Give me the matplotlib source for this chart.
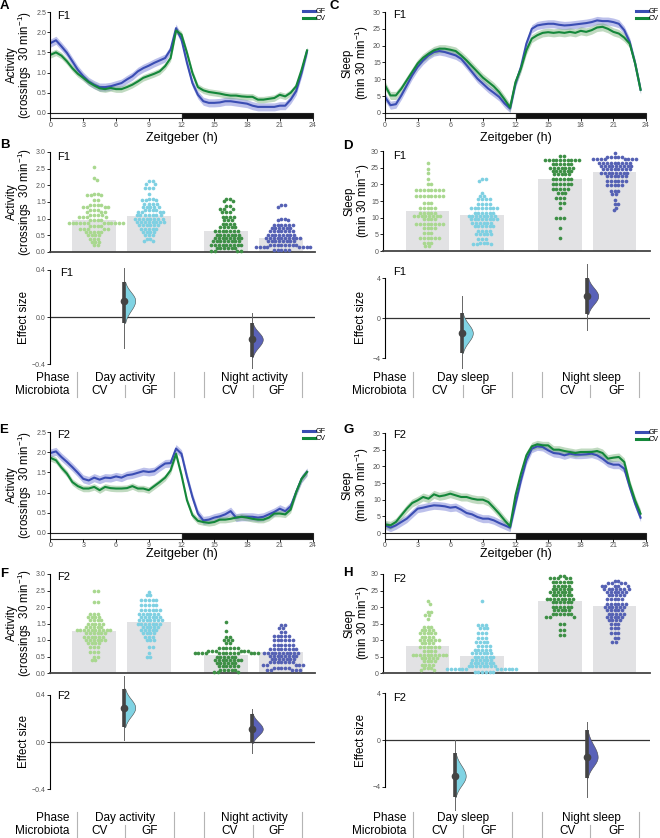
import numpy as np
import matplotlib
matplotlib.use("Agg")
import matplotlib.pyplot as plt
from matplotlib.lines import Line2D
from matplotlib.patches import Rectangle

plt.rcParams['font.family'] = ['Liberation Sans', 'DejaVu Sans']
plt.rcParams['mathtext.fontset'] = 'custom'
plt.rcParams['mathtext.rm'] = 'Liberation Sans'
plt.rcParams['mathtext.it'] = 'Liberation Sans:italic'
plt.rcParams['mathtext.bf'] = 'Liberation Sans:bold'

# ---- time courses, 30 min bins (ZT 0 .. 23.5) ----
hours = np.arange(48) * 0.5

actF1_gf = [1.73, 1.80, 1.65, 1.49, 1.28, 1.07, 0.91, 0.78, 0.70, 0.64, 0.64, 0.66, 0.70, 0.74, 0.83, 0.91,
            1.03, 1.11, 1.17, 1.24, 1.30, 1.36, 1.57, 2.10, 1.82, 1.24, 0.74, 0.45, 0.29, 0.25, 0.25, 0.26,
            0.29, 0.29, 0.27, 0.25, 0.23, 0.18, 0.15, 0.15, 0.15, 0.15, 0.18, 0.18, 0.33, 0.54, 0.99, 1.53]
actF1_cv = [1.44, 1.50, 1.42, 1.28, 1.11, 0.97, 0.87, 0.76, 0.68, 0.61, 0.59, 0.62, 0.59, 0.59, 0.64, 0.70,
            0.78, 0.87, 0.92, 0.97, 1.03, 1.16, 1.36, 2.04, 1.94, 1.49, 0.99, 0.64, 0.56, 0.52, 0.50, 0.48,
            0.45, 0.43, 0.43, 0.41, 0.40, 0.40, 0.33, 0.33, 0.35, 0.37, 0.45, 0.41, 0.50, 0.66, 1.07, 1.55]
sleepF1_gf = [4.75, 2.3, 2.6, 5.2, 8.2, 11.2, 13.7, 15.6, 17.1, 18.1, 18.4, 18.1, 17.6, 17.1, 16.1, 14.2,
              12.2, 10.2, 8.7, 7.2, 6.0, 4.75, 2.8, 1.3, 8.7, 13.7, 20.6, 25.0, 26.0, 26.3, 26.5, 26.5,
              26.2, 26.0, 26.1, 26.3, 26.5, 26.7, 27.0, 27.5, 27.3, 27.3, 27.0, 26.5, 24.6, 21.1, 14.7, 6.9]
sleepF1_cv = [8.2, 5.2, 5.2, 7.2, 9.7, 12.2, 14.7, 16.4, 17.6, 18.6, 19.1, 19.1, 18.8, 18.4, 17.1, 15.6,
              13.9, 12.2, 10.5, 9.2, 7.9, 6.2, 4.0, 1.6, 9.2, 13.2, 18.6, 22.1, 23.1, 23.8, 24.0, 23.8,
              24.0, 23.8, 24.1, 23.8, 24.4, 24.1, 24.6, 25.4, 25.6, 25.0, 24.1, 23.6, 22.4, 20.6, 14.7, 6.9]
actF2_gf = [1.98, 2.02, 1.88, 1.76, 1.63, 1.49, 1.34, 1.30, 1.37, 1.32, 1.37, 1.36, 1.40, 1.37, 1.43, 1.45,
            1.49, 1.53, 1.51, 1.53, 1.63, 1.72, 1.73, 2.09, 1.96, 1.39, 0.89, 0.48, 0.31, 0.33, 0.38, 0.41,
            0.46, 0.54, 0.38, 0.40, 0.40, 0.40, 0.38, 0.40, 0.46, 0.52, 0.60, 0.54, 0.66, 1.01, 1.34, 1.51]
actF2_cv = [1.86, 1.80, 1.62, 1.47, 1.26, 1.16, 1.10, 1.10, 1.14, 1.06, 1.14, 1.11, 1.10, 1.10, 1.11, 1.16,
            1.10, 1.10, 1.06, 1.16, 1.26, 1.37, 1.55, 1.96, 1.43, 0.81, 0.44, 0.30, 0.27, 0.25, 0.27, 0.33,
            0.33, 0.35, 0.38, 0.40, 0.38, 0.35, 0.33, 0.33, 0.38, 0.48, 0.48, 0.46, 0.58, 1.01, 1.34, 1.51]
sleepF2_gf = [2.3, 1.6, 2.3, 3.3, 4.3, 5.8, 7.3, 7.6, 8.0, 8.3, 8.2, 8.0, 7.6, 7.8, 7.0, 6.0,
              5.6, 4.8, 4.3, 4.3, 3.8, 3.0, 2.3, 1.6, 8.8, 15.8, 21.8, 25.3, 26.0, 25.8, 24.8, 24.0,
              23.8, 23.3, 23.8, 23.5, 23.5, 23.6, 23.8, 23.3, 22.3, 21.0, 20.5, 20.5, 19.3, 13.8, 8.8, 4.6]
sleepF2_cv = [2.6, 2.3, 3.3, 5.3, 7.3, 9.0, 9.8, 10.8, 10.3, 11.6, 11.0, 11.3, 11.8, 11.3, 10.8, 10.8,
              10.3, 10.0, 10.0, 9.3, 7.6, 5.8, 3.8, 2.0, 11.3, 17.8, 23.3, 26.0, 26.6, 26.3, 26.3, 25.0,
              25.0, 24.6, 24.3, 24.0, 24.3, 24.3, 24.3, 24.6, 24.0, 22.3, 22.6, 22.8, 21.3, 14.8, 9.8, 5.8]
sem_act = (0.10, 0.08)
sem_sleep = (1.2, 1.2)

# ---- per-fly means: value levels and how many flies sit on each ----
actF1_dayCV_lv = [2.55, 2.22, 2.17, 1.75, 1.70, 1.55, 1.40, 1.35, 1.25, 1.20, 1.10, 1.05, 0.95, 0.87, 0.78, 0.70, 0.60, 0.50, 0.40, 0.30, 0.20]
actF1_dayCV_ct = [1, 1, 1, 2, 3, 2, 4, 4, 3, 3, 4, 4, 4, 12, 4, 5, 5, 4, 3, 3, 2]
actF1_dayGF_lv = [2.12, 2.05, 1.93, 1.75, 1.60, 1.55, 1.45, 1.35, 1.25, 1.20, 1.10, 1.00, 0.90, 0.80, 0.70, 0.60, 0.50, 0.40, 0.33]
actF1_dayGF_ct = [2, 2, 3, 1, 2, 3, 4, 5, 4, 4, 7, 8, 8, 6, 5, 4, 3, 2, 2]
actF1_nightCV_lv = [1.60, 1.52, 1.38, 1.30, 1.20, 1.05, 0.95, 0.85, 0.75, 0.62, 0.52, 0.42, 0.32, 0.22, 0.12, 0.03]
actF1_nightCV_ct = [2, 2, 2, 3, 3, 4, 3, 4, 5, 7, 7, 8, 8, 9, 6, 4]
actF1_nightGF_lv = [1.40, 1.35, 1.00, 0.95, 0.82, 0.72, 0.62, 0.52, 0.42, 0.32, 0.22, 0.15, 0.05]
actF1_nightGF_ct = [2, 1, 2, 2, 6, 6, 7, 8, 10, 8, 8, 8, 5]

sleepF1_dayCV_lv = [26.3, 24.5, 23.3, 21.5, 20.0, 18.2, 16.5, 14.5, 12.8, 11.5, 10.5, 9.5, 8.2, 7.0, 5.5, 4.0, 2.5, 1.5]
sleepF1_dayCV_ct = [1, 1, 1, 1, 2, 8, 8, 3, 5, 5, 8, 4, 8, 4, 3, 6, 3, 2]
sleepF1_dayGF_lv = [21.7, 21.0, 17.5, 16.5, 15.5, 14.0, 12.8, 11.5, 10.5, 9.5, 8.5, 7.5, 6.0, 5.0, 3.5, 2.5, 2.0]
sleepF1_dayGF_ct = [2, 1, 1, 2, 4, 4, 8, 6, 8, 8, 6, 6, 4, 5, 3, 3, 3]
sleepF1_nightCV_lv = [28.5, 27.3, 26.0, 25.0, 24.0, 23.0, 21.5, 20.0, 18.5, 17.5, 16.0, 14.5, 12.8, 10.0, 7.0, 3.8]
sleepF1_nightCV_ct = [2, 10, 6, 7, 6, 5, 6, 6, 5, 3, 3, 2, 1, 3, 1, 1]
sleepF1_nightGF_lv = [29.5, 28.3, 27.5, 26.5, 25.5, 24.5, 23.5, 22.5, 21.0, 19.8, 18.0, 17.0, 15.3, 14.0, 13.0, 12.2]
sleepF1_nightGF_ct = [1, 5, 8, 9, 9, 8, 8, 6, 6, 5, 3, 2, 1, 2, 1, 1]

actF2_dayCV_lv = [2.50, 2.15, 1.80, 1.70, 1.60, 1.50, 1.40, 1.30, 1.20, 1.10, 1.00, 0.90, 0.80, 0.65, 0.50, 0.40]
actF2_dayCV_ct = [2, 2, 3, 4, 4, 5, 5, 10, 6, 6, 6, 4, 3, 3, 2, 2]
actF2_dayGF_lv = [2.45, 2.35, 2.20, 2.05, 1.90, 1.80, 1.70, 1.60, 1.50, 1.40, 1.30, 1.20, 1.10, 1.00, 0.80, 0.60, 0.50]
actF2_dayGF_ct = [1, 2, 5, 5, 6, 6, 6, 7, 7, 5, 5, 4, 3, 3, 2, 1, 2]
actF2_nightCV_lv = [1.55, 1.28, 1.10, 1.00, 0.90, 0.75, 0.68, 0.60, 0.50, 0.40, 0.30, 0.20, 0.10, 0.02]
actF2_nightCV_ct = [1, 1, 2, 3, 2, 6, 6, 13, 6, 8, 6, 6, 5, 3]
actF2_nightGF_lv = [1.45, 1.35, 1.25, 1.12, 1.00, 0.85, 0.72, 0.62, 0.52, 0.42, 0.32, 0.25, 0.15, 0.10]
actF2_nightGF_ct = [2, 2, 2, 5, 6, 6, 8, 10, 8, 7, 7, 5, 5, 5]

sleepF2_dayCV_lv = [21.8, 21.0, 18.5, 17.5, 16.5, 14.0, 13.0, 12.0, 11.0, 10.0, 9.0, 8.0, 6.8, 5.5, 4.5, 3.5, 2.5, 1.5, 0.8]
sleepF2_dayCV_ct = [1, 1, 2, 2, 1, 3, 4, 5, 4, 6, 4, 6, 4, 10, 5, 4, 4, 3, 2]
sleepF2_dayGF_lv = [21.7, 14.5, 13.5, 12.0, 10.5, 9.5, 8.3, 7.0, 6.0, 5.0, 4.0, 3.0, 2.0, 1.2, 0.3]
sleepF2_dayGF_ct = [1, 3, 3, 3, 3, 4, 4, 5, 6, 6, 6, 7, 8, 12, 6]
sleepF2_nightCV_lv = [29.5, 28.7, 27.5, 26.5, 25.5, 24.5, 23.5, 22.5, 21.5, 20.0, 19.0, 17.8, 17.0, 15.0, 13.0, 11.5]
sleepF2_nightCV_ct = [2, 5, 6, 5, 6, 6, 6, 8, 6, 6, 5, 6, 3, 2, 2, 2]
sleepF2_nightGF_lv = [28.0, 27.3, 26.5, 25.5, 24.5, 23.5, 22.5, 21.0, 20.0, 19.0, 18.0, 17.0, 16.0, 15.0, 13.5, 12.0, 10.5, 9.5]
sleepF2_nightGF_ct = [2, 4, 5, 7, 6, 5, 5, 6, 6, 5, 5, 5, 4, 3, 3, 3, 2, 2]

# bar heights (group means): day CV, day GF, night CV, night GF
actF1_means = [0.96, 1.08, 0.63, 0.42]
sleepF1_means = [12.1, 10.8, 21.6, 23.8]
actF2_means = [1.27, 1.55, 0.55, 0.64]
sleepF2_means = [8.2, 5.2, 21.8, 20.3]

# effect sizes (GF - CV): mean, 95% CI low/high, bootstrap min/max; day then night
actF1_eff = [(0.14, -0.05, 0.30, -0.26, 0.42), (-0.19, -0.34, -0.05, -0.43, 0.03)]
sleepF1_eff = [(-1.5, -3.5, 0.5, -5.0, 2.2), (2.2, 0.4, 4.0, -1.2, 5.4)]
actF2_eff = [(0.29, 0.125, 0.45, 0.02, 0.56), (0.11, -0.01, 0.24, -0.09, 0.28)]
sleepF2_eff = [(-3.06, -4.85, -1.1, -6.0, 0.0), (-1.45, -3.2, 0.85, -4.85, 1.5)]

micro = ['CV', 'GF', 'CV', 'GF']

GF_LINE = '#3a4db3'
CV_LINE = '#14873a'
GF_BAND = '#7a82d8'
CV_BAND = '#74ad74'
BAR_GRAY = '#e2e2e4'
SWARM_COLORS = ['#a9d88f', '#7ed0e2', '#3d8f45', '#5561b4']
VIOLIN_COLORS = ['#80d3e3', '#5a62b8']
SEP = '#b4b4b4'
TICK_TXT = '#555555'

W, H = 660, 838
fig = plt.figure(figsize=(W / 100, H / 100), dpi=100)


def box(x0, y0, x1, y1):
    return [x0 / W, 1 - y1 / H, (x1 - x0) / W, (y1 - y0) / H]


def label(x, y, s, **kw):
    fig.text(x / W, 1 - y / H, s, **kw)


def vline(x, y0, y1, **kw):
    fig.add_artist(Line2D([x / W, x / W], [1 - y0 / H, 1 - y1 / H], **kw))


def style_left(ax):
    ax.spines[['top', 'right']].set_visible(False)
    ax.spines['left'].set_linewidth(0.8)
    ax.tick_params(axis='y', length=2, width=0.6, pad=1, labelsize=5, labelcolor=TICK_TXT)


def swarm_x(ax, xc, vals, d):
    pts = ax.transData.transform(np.column_stack([np.full(len(vals), xc), vals]))
    cx = pts[0, 0]
    steps = np.arange(0.25, 60, 0.25)
    cand = np.concatenate([[0.0], np.column_stack([steps, -steps]).ravel()])
    placed, out = [], []
    for py in pts[:, 1]:
        near = [(qx, qy) for qx, qy in placed if abs(qy - py) < d]
        for dx in cand:
            if all((dx - qx) ** 2 + (py - qy) ** 2 >= d * d for qx, qy in near):
                break
        placed.append((dx, py))
        out.append(cx + dx)
    return ax.transData.inverted().transform(np.column_stack([out, pts[:, 1]]))[:, 0]


def trace_panel(rect, ymax, step, fmt, gf, cv, sem, leg_xy, xlab_y):
    ax = fig.add_axes(box(*rect))
    ld = ymax * 0.055
    ax.set_xlim(0, 24)
    ax.set_ylim(-ld, ymax)
    gf = np.asarray(gf)
    cv = np.asarray(cv)
    ax.fill_between(hours, gf - sem[0], gf + sem[0], color=GF_BAND, alpha=0.5, lw=0)
    ax.fill_between(hours, cv - sem[1], cv + sem[1], color=CV_BAND, alpha=0.45, lw=0)
    ax.plot(hours, gf, color=GF_LINE, lw=1.5)
    ax.plot(hours, cv, color=CV_LINE, lw=1.5)
    ax.add_patch(Rectangle((0, -ld), 12, ld, fc='white', ec='#222', lw=0.8, clip_on=False))
    ax.add_patch(Rectangle((12, -ld), 12, ld, fc='#111', ec='#222', lw=0.8, clip_on=False))
    style_left(ax)
    ax.spines['bottom'].set_visible(False)
    ax.spines['left'].set_bounds(0, ymax)
    ax.set_yticks(np.arange(0, ymax + step / 2, step))
    ax.yaxis.set_major_formatter(fmt)
    ax.set_xticks(np.arange(0, 25, 3))
    ax.tick_params(axis='x', length=2, width=0.6, pad=0.8, labelsize=5, labelcolor=TICK_TXT)
    handles = [Line2D([], [], color=GF_LINE, lw=2.2), Line2D([], [], color=CV_LINE, lw=2.2)]
    ax.legend(handles, ['GF', 'CV'], loc='upper left', bbox_to_anchor=(leg_xy[0] / W, 1 - leg_xy[1] / H),
              bbox_transform=fig.transFigure, frameon=False, fontsize=5.2, handlelength=1.6,
              handletextpad=0.1, labelspacing=0.0, borderpad=0, borderaxespad=0)
    label((rect[0] + rect[2]) / 2, xlab_y, 'Zeitgeber (h)', ha='center', va='center', fontsize=9)
    return ax


def bar_panel(rect, xlim, pos, means, groups, ymax, step, fmt):
    ax = fig.add_axes(box(*rect))
    ax.set_xlim(*xlim)
    ax.set_ylim(0, ymax)
    ax.bar(pos, means, width=0.8, color=BAR_GRAY, zorder=1)
    for p, (lv, ct), c in zip(pos, groups, SWARM_COLORS):
        vals = np.repeat(lv, ct)
        xs = swarm_x(ax, p, vals, 3.6)
        ax.scatter(xs, vals, s=7, color=c, lw=0, zorder=3, clip_on=False)
    style_left(ax)
    ax.spines['bottom'].set_color('#444')
    ax.spines['bottom'].set_linewidth(1.3)
    ax.tick_params(axis='x', bottom=False, labelbottom=False)
    ax.set_yticks(np.arange(0, ymax + step / 2, step))
    ax.yaxis.set_major_formatter(fmt)
    return ax


def effect_panel(rect, xlim, xs, effects, lim, tick, fmt):
    ax = fig.add_axes(box(*rect))
    ax.set_xlim(*xlim)
    ax.set_ylim(-lim, lim)
    ax.axhline(0, color='#333', lw=0.9, zorder=1)
    for x, (m, lo, hi, rmin, rmax), c in zip(xs, effects, VIOLIN_COLORS):
        ax.plot([x, x], [rmin, rmax], color='#666', lw=0.7, clip_on=False, zorder=2)
        yy = np.linspace(lo, hi, 100)
        sd = np.where(yy > m, (hi - m) / 2.2, (m - lo) / 2.2)
        dens = np.exp(-0.5 * ((yy - m) / sd) ** 2)
        ax.fill_betweenx(yy, x, x + 0.2 * dens, color=c, ec='#4a4a4a', lw=0.4, zorder=3, clip_on=False)
        ax.plot([x, x], [lo, hi], color='#444', lw=2.6, solid_capstyle='butt', zorder=4, clip_on=False)
        ax.plot([x], [m], 'o', color='#444', ms=4.5, zorder=5, clip_on=False)
    style_left(ax)
    ax.spines['bottom'].set_visible(False)
    ax.spines['left'].set_bounds(-tick, tick)
    ax.set_yticks([-tick, 0, tick])
    ax.yaxis.set_major_formatter(fmt)
    ax.tick_params(axis='x', bottom=False, labelbottom=False)
    return ax


def table(right, seps, small, phase_x, phases, micro_x, y_phase, y_micro, y_top, y_bot):
    label(right, y_phase, 'Phase', ha='right', va='center', fontsize=8.5)
    label(right, y_micro, 'Microbiota', ha='right', va='center', fontsize=8.5)
    for x in seps:
        vline(x, y_top, y_bot, color=SEP, lw=0.8)
    for x in small:
        vline(x, y_micro - 6, y_bot, color=SEP, lw=0.8)
    for x, s in zip(phase_x, phases):
        label(x, y_phase, s, ha='center', va='center', fontsize=8.5)
    for x, s in zip(micro_x, micro):
        label(x, y_micro, s, ha='center', va='center', fontsize=8.5)


def ylab(x, y, lines):
    # one rotated text per line, stacked left to right
    for i, s in enumerate(lines):
        label(x + i * 13.5, y, s, rotation=90, ha='center', va='center', fontsize=8.3)


fmt1 = matplotlib.ticker.FormatStrFormatter('%.1f')
fmt0 = matplotlib.ticker.FuncFormatter(lambda v, p: f'{v:.0f}'.replace('-', '\u2212'))
fmt1m = matplotlib.ticker.FuncFormatter(lambda v, p: f'{v:.1f}'.replace('-', '\u2212'))

left_pos = [0, 1, 2.41, 3.41]
left_xlim = (-0.8, 4.02)
right_pos = [0, 1, 2.43, 3.43]
right_xlim = (-0.82, 4.08)

act_lab = ['Activity', '(crossings  30 min$^{-1}$)']
sleep_lab = ['Sleep', '(min 30 min$^{-1}$)']

# ---------- F1 ----------
trace_panel((50.5, 12, 312.5, 118.5), 2.5, 0.5, fmt1, actF1_gf, actF1_cv, sem_act, (303, 8), 138)
trace_panel((385, 12, 646, 118.5), 30, 5, fmt0, sleepF1_gf, sleepF1_cv, sem_sleep, (636, 8), 138)
bar_panel((50, 152, 315, 252), left_xlim, left_pos, actF1_means,
          [(actF1_dayCV_lv, actF1_dayCV_ct), (actF1_dayGF_lv, actF1_dayGF_ct),
           (actF1_nightCV_lv, actF1_nightCV_ct), (actF1_nightGF_lv, actF1_nightGF_ct)], 3.0, 0.5, fmt1)
bar_panel((383, 151, 650, 251), right_xlim, right_pos, sleepF1_means,
          [(sleepF1_dayCV_lv, sleepF1_dayCV_ct), (sleepF1_dayGF_lv, sleepF1_dayGF_ct),
           (sleepF1_nightCV_lv, sleepF1_nightCV_ct), (sleepF1_nightGF_lv, sleepF1_nightGF_ct)], 30, 5, fmt0)
effect_panel((50, 264, 315, 370), left_xlim, [0.55, 2.87], actF1_eff, 0.45, 0.4, fmt1m)
effect_panel((385, 263, 650, 373), (-0.78, 4.08), [0.63, 2.93], sleepF1_eff, 5.5, 4, fmt0)

# ---------- F2 ----------
trace_panel((50.5, 432, 312.5, 538.5), 2.5, 0.5, fmt1, actF2_gf, actF2_cv, sem_act, (303, 428), 554)
trace_panel((385, 433, 646, 538.5), 30, 5, fmt0, sleepF2_gf, sleepF2_cv, sem_sleep, (636, 429), 554)
bar_panel((50, 574, 315, 673), left_xlim, left_pos, actF2_means,
          [(actF2_dayCV_lv, actF2_dayCV_ct), (actF2_dayGF_lv, actF2_dayGF_ct),
           (actF2_nightCV_lv, actF2_nightCV_ct), (actF2_nightGF_lv, actF2_nightGF_ct)], 3.0, 0.5, fmt1)
bar_panel((383, 574, 650, 673), right_xlim, right_pos, sleepF2_means,
          [(sleepF2_dayCV_lv, sleepF2_dayCV_ct), (sleepF2_dayGF_lv, sleepF2_dayGF_ct),
           (sleepF2_nightCV_lv, sleepF2_nightCV_ct), (sleepF2_nightGF_lv, sleepF2_nightGF_ct)], 30, 5, fmt0)
effect_panel((50, 688.6, 315, 795.4), left_xlim, [0.55, 2.87], actF2_eff, 0.45, 0.4, fmt1m)
effect_panel((385, 675.4, 650, 804.6), (-0.78, 4.08), [0.5, 2.92], sleepF2_eff, 5.5, 4, fmt0)

# y labels
for x, y, lines in [(11.5, 65, act_lab), (11.5, 202, act_lab), (24, 317, ['Effect size']),
                    (348, 63, sleep_lab), (349, 201, sleep_lab), (361, 318, ['Effect size']),
                    (11.5, 485, act_lab), (11.5, 623, act_lab), (24, 742, ['Effect size']),
                    (348, 485, sleep_lab), (349, 623, sleep_lab), (361, 740, ['Effect size'])]:
    ylab(x, y, lines)

# F1 / F2 tags
for x, y, s in [(57, 16, 'F1'), (57, 157, 'F1'), (60, 273, 'F1'),
                (393, 15, 'F1'), (393, 156, 'F1'), (393, 272, 'F1'),
                (57, 435, 'F2'), (57, 577, 'F2'), (57, 696, 'F2'),
                (393, 435, 'F2'), (393, 579, 'F2'), (393, 698, 'F2')]:
    label(x, y, s, ha='left', va='center', fontsize=8)

# panel letters
for x, y, s in [(4, 6, 'A'), (5, 145, 'B'), (334, 6, 'C'), (348, 146, 'D'),
                (4, 430, 'E'), (4, 574, 'F'), (349, 430, 'G'), (348, 573, 'H')]:
    label(x, y, s, ha='center', va='center', fontsize=9.5, fontweight='bold')

# grouping tables
left_seps = [77, 174, 204, 302]
left_small = [125, 253]
right_seps = [413, 512, 542, 639]
right_small = [463, 590]
table(69, left_seps, left_small, [125, 254], ['Day activity', 'Night activity'],
      [100, 150, 230, 277], 378, 391, 372, 397)
table(406, right_seps, right_small, [463, 591], ['Day sleep', 'Night sleep'],
      [440, 489, 568, 617], 378, 391, 372, 397)
table(69, left_seps, left_small, [125, 254], ['Day activity', 'Night activity'],
      [100, 150, 230, 277], 818, 831, 812, 838)
table(406, right_seps, right_small, [463, 591], ['Day sleep', 'Night sleep'],
      [440, 489, 568, 617], 818, 831, 812, 838)

fig.savefig('out.png', dpi=100)
